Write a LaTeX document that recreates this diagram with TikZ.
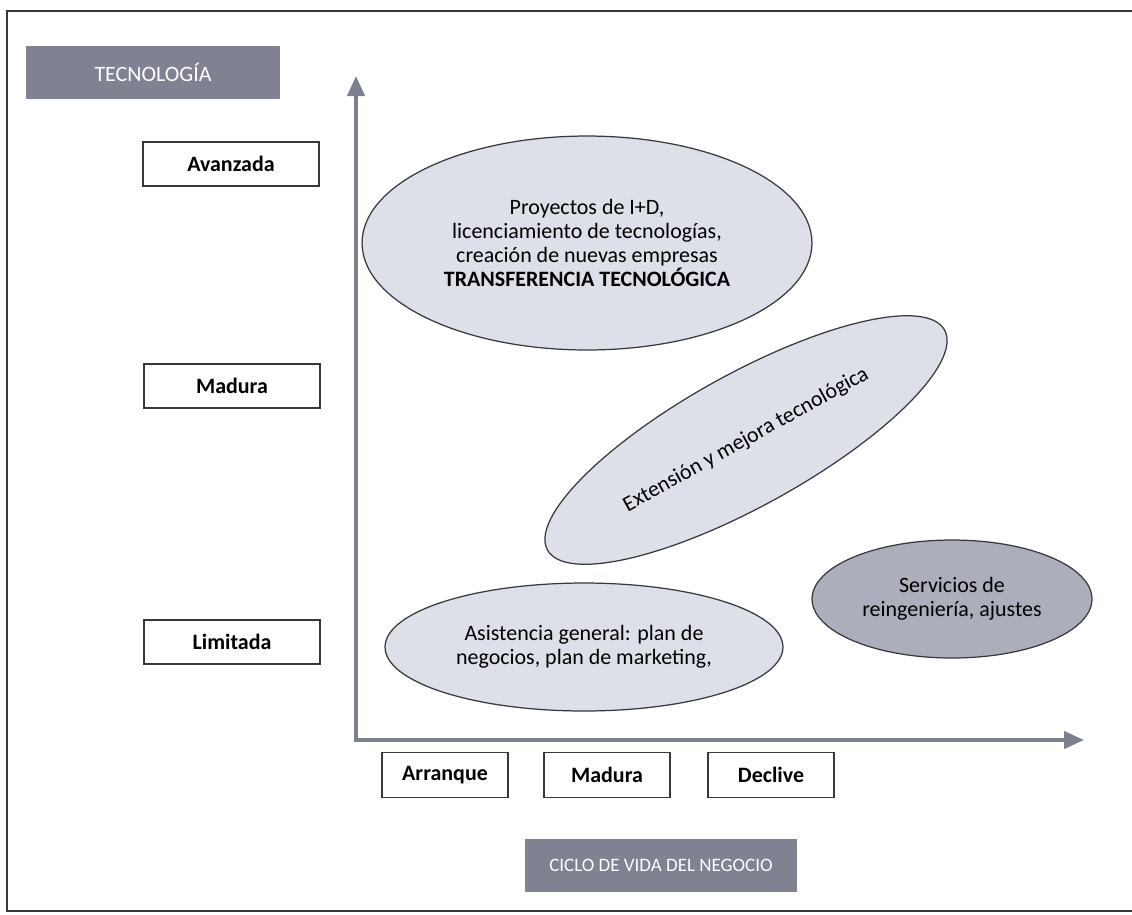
\documentclass[tikz,border=0pt]{standalone}
\usepackage{fontspec}
\setmainfont{Carlito}
\usetikzlibrary{shapes.geometric,
           arrows.meta,
           positioning}
\definecolor{ejegris}{RGB}{124,128,143}
\definecolor{cajagris}{RGB}{128,130,145}
\definecolor{elipse}{RGB}{221,223,233}
\definecolor{elipseosc}{RGB}{172,174,188}
\definecolor{borde}{RGB}{55,55,60}

\begin{document}
\begin{tikzpicture}[x=0.02cm,y=-0.02cm,
  nivel/.style={draw=borde,fill=white,line width=0.6pt,minimum width=3.52cm,minimum height=0.88cm,
    font=\fontsize{12.5}{14}\selectfont\bfseries},
  etapa/.style={nivel,minimum width=2.52cm,minimum height=0.9cm},
  titulo/.style={fill=cajagris,text=white,minimum height=1.06cm},
  zona/.style={ellipse,draw=borde,fill=elipse,line width=0.7pt,inner sep=0pt,align=center,
    font=\fontsize{12.5}{13.7}\selectfont},
  eje/.style={ejegris,line width=2.4pt,{Triangle[length=0.4cm,width=0.34cm]}-{Triangle[length=0.4cm,width=0.34cm]}}]
\useasboundingbox(0,0)rectangle(1132,914);
\draw[line width=1.2pt,borde](1132,11)--(7,11)--(7,911)--(1132,911);
% titulos
\node[titulo,minimum width=5.08cm,font=\fontsize{12.5}{14}\selectfont](tec) at (153,72){TECNOLOGÍA};
\node[titulo,minimum width=5.46cm,font=\fontsize{10.8}{13}\selectfont](ciclo) at (661,865){CICLO DE VIDA DEL NEGOCIO};
% niveles y etapas
\node[nivel](avanzada) at (231,164){Avanzada};
\node[nivel](madura) at (232,386){Madura};
\node[nivel](limitada) at (232,642){Limitada};
\foreach \n/\x/\t in {arranque/445/Arranque,madurez/607/Madura,declive/771/Declive}
\node[etapa](\n) at (\x,775){\t};
% ejes
\coordinate (O) at (356,740);
\coordinate (ytip) at (356,76);
\coordinate (xtip) at (1084,740);
\draw[eje](ytip)--(O)--(xtip);
% zonas
\node[zona,minimum width=9cm,minimum height=4.28cm](transf) at (587,243)
  {Proyectos de I+D,\\licenciamiento de tecnologías,\\creación de nuevas empresas\\\textbf{TRANSFERENCIA TECNOLÓGICA}};
\node[zona,rotate=29,minimum width=9.08cm,minimum height=2.64cm](mejora) at (746,440)
  {Extensión y mejora tecnológica};
\node[zona,minimum width=7.96cm,minimum height=2.56cm](asist) at (584,647)
  {Asistencia general: plan de\\negocios, plan de marketing,};
\node[zona,fill=elipseosc,minimum width=5.6cm,minimum height=2.36cm](serv) at (952,599)
  {Servicios de\\reingeniería, ajustes};
\end{tikzpicture}
\end{document}
